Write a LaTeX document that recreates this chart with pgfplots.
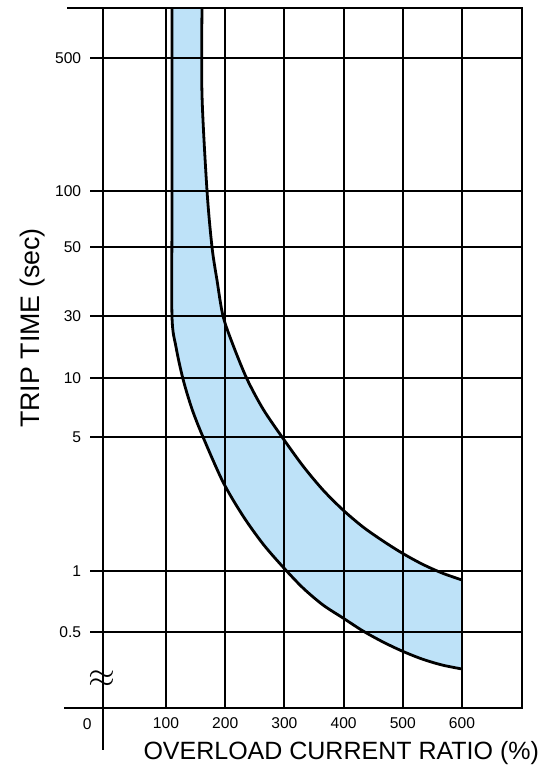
\documentclass[border=0pt]{standalone}
\usepackage{fontspec}
\setmainfont{Liberation Sans}
\usepackage{pgfplots}
\pgfplotsset{compat=1.18}
\usepgfplotslibrary{fillbetween}
\definecolor{band}{RGB}{190,226,248}

\begin{document}
\begin{tikzpicture}
\begin{axis}[
  x=0.296pt, y=0.5pt,
  xmin=-28, xmax=701, ymin=0, ymax=700,
  axis line style={draw=none},
  major tick length=0pt,
  xtick={100,200,...,600},
  % the time scale of the sheet is not regular: ticks at their drawn heights
  ytick={76,137,271,330,392,461,517,650},
  yticklabels={0.5,1,5,10,30,50,100,500},
  grid=major,
  major grid style={black, line width=1pt},
  axis on top,
  clip=false,
  tick label style={font=\fontsize{7.8}{9}\selectfont},
  /pgf/number format/assume math mode=true,
  xticklabel style={yshift=-1.2pt},
  yticklabel style={xshift=-1pt},
]
  % lower limit of the band
  \addplot[name path=lo, black, line width=1.4pt, smooth, tension=0.5] coordinates {
    (110.1,700) (110.1,500) (110.1,392) (116.9,361) (128.7,329) (143.9,299)
    (162.5,271) (196.3,226) (230.1,192) (263.9,164) (297.6,141) (331.4,120)
    (365.2,103) (399.0,90) (432.8,77) (466.6,66) (498.6,57) (532.4,49)
    (566.2,43) (600.0,39)
  };
  % upper limit of the band
  \addplot[name path=up, black, line width=1.4pt, smooth, tension=0.5] coordinates {
    (160.8,700) (160.8,613) (169.3,517) (177.7,461) (186.1,428) (196.3,392)
    (213.2,363) (236.8,329) (263.9,299) (296.0,271) (331.4,242) (365.2,218)
    (399.0,198) (432.8,181) (466.6,167) (498.6,155) (532.4,144) (566.2,135)
    (600.0,128)
  };
  \addplot[band] fill between[of=lo and up];
  \draw[black, line width=1.4pt] (axis cs:600,39) -- (axis cs:600,128);

  % frame and axis
  \draw[line width=1pt] (axis cs:-72,0) -- (axis cs:701,0) -- (axis cs:701,700) -- (axis cs:-67,700);
  \draw[line width=1pt] (axis cs:-6,-42) -- (axis cs:-6,700);
  \node[font=\fontsize{7.8}{9}\selectfont] at (axis cs:-33,-16) {0};
  \node[font=\fontsize{16}{18}\selectfont] at (axis cs:-8,29) {$\approx$};

  \node[rotate=90, font=\fontsize{13.4}{16}\selectfont] at (axis cs:-126,380) {TRIP TIME (sec)};
  \node[font=\fontsize{12.5}{15}\selectfont] at (axis cs:396,-45) {OVERLOAD CURRENT RATIO (\%)};

  \coordinate (bb1) at (axis cs:-180.4,-61);
  \coordinate (bb2) at (axis cs:757.1,708);
\end{axis}
\pgfresetboundingbox
\path[use as bounding box] (bb1) rectangle (bb2);
\end{tikzpicture}
\end{document}
